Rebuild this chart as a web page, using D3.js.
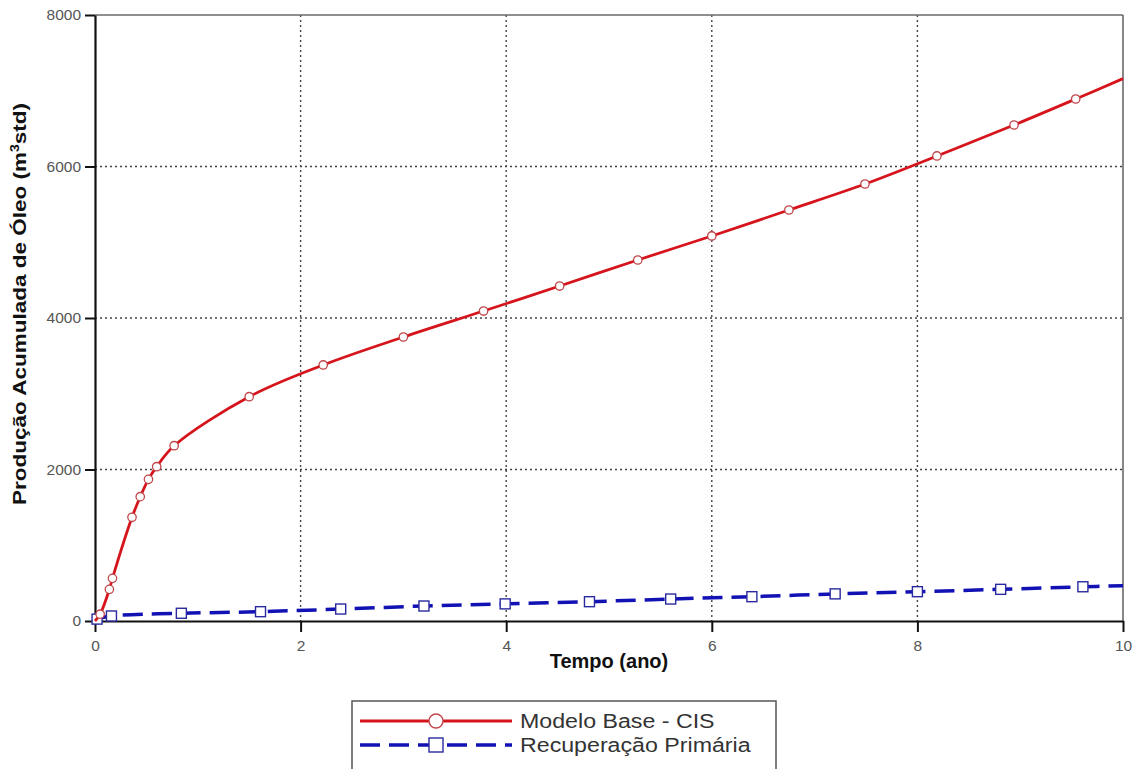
<!DOCTYPE html>
<html>
<head>
<meta charset="utf-8">
<script src="https://cdn.jsdelivr.net/npm/d3@7"></script>
<style>
  html, body { margin: 0; padding: 0; background: #fff; }
  svg { display: block; font-family: "Liberation Sans", Arial, sans-serif; }
</style>
</head>
<body>
<svg id="chart" width="1143" height="769"></svg>
<script>
// Cumulative oil production over time, two scenarios
const cisTime   = [0, 0.05, 0.14, 0.17, 0.36, 0.44, 0.52, 0.60, 0.77, 1.50, 2.22, 3.00, 3.78, 4.52, 5.28, 6.00, 6.75, 7.49, 8.19, 8.94, 9.54, 10];
const cisOil    = [0, 90, 418, 563, 1369, 1641, 1870, 2037, 2314, 2961, 3380, 3749, 4092, 4422, 4766, 5083, 5426, 5769, 6139, 6548, 6891, 7160];
const cisMarker = [0, 1, 1, 1, 1, 1, 1, 1, 1, 1, 1, 1, 1, 1, 1, 1, 1, 1, 1, 1, 1, 0];

const primTime   = [0, 0.02, 0.16, 0.84, 1.61, 2.39, 3.20, 3.99, 4.81, 5.60, 6.39, 7.20, 8.00, 8.81, 9.61, 10];
const primOil    = [0, 25, 66, 102, 123, 158, 198, 226, 255, 290, 321, 358, 387, 418, 452, 465];
const primMarker = [0, 1, 1, 1, 1, 1, 1, 1, 1, 1, 1, 1, 1, 1, 1, 0];

const xTicks = [0, 2, 4, 6, 8, 10];
const yTicks = [0, 2000, 4000, 6000, 8000];

const seriesNames = ["Modelo Base - CIS", "Recuperação Primária"];
const xTitle = "Tempo (ano)";

const svg = d3.select("#chart");
const plot = { left: 95, right: 1123, top: 15, bottom: 621 };

const x = d3.scaleLinear().domain([0, 10]).range([plot.left, plot.right]);
const y = d3.scaleLinear().domain([0, 8000]).range([plot.bottom, plot.top]);

const RED = "#d6141c";
const BLUE = "#1212b4";

// dotted grid
const grid = svg.append("g");
grid.selectAll("line.gx").data(xTicks.filter(d => d > 0 && d < 10)).join("line")
  .attr("x1", d => x(d)).attr("x2", d => x(d))
  .attr("y1", plot.top).attr("y2", plot.bottom)
  .attr("stroke", "#444").attr("stroke-width", 1.4).attr("stroke-dasharray", "2,3");
grid.selectAll("line.gy").data(yTicks.filter(d => d > 0 && d < 8000)).join("line")
  .attr("x1", plot.left).attr("x2", plot.right)
  .attr("y1", d => y(d)).attr("y2", d => y(d))
  .attr("stroke", "#444").attr("stroke-width", 1.4).attr("stroke-dasharray", "2,3");

// top and right frame
svg.append("line").attr("x1", plot.left).attr("x2", plot.right).attr("y1", plot.top).attr("y2", plot.top)
  .attr("stroke", "#6a6a6a").attr("stroke-width", 1.6);
svg.append("line").attr("x1", plot.right).attr("x2", plot.right).attr("y1", plot.top).attr("y2", plot.bottom)
  .attr("stroke", "#6a6a6a").attr("stroke-width", 1.6);

// axes
const xAxis = svg.append("g").attr("transform", `translate(0,${plot.bottom})`)
  .call(d3.axisBottom(x).tickValues(xTicks).tickSize(11).tickSizeOuter(0).tickPadding(8).tickFormat(d3.format("d")));
const yAxis = svg.append("g").attr("transform", `translate(${plot.left},0)`)
  .call(d3.axisLeft(y).tickValues(yTicks).tickSize(10).tickSizeOuter(0).tickPadding(4).tickFormat(d3.format("d")));
[xAxis, yAxis].forEach(a => {
  a.select(".domain").attr("stroke", "#111").attr("stroke-width", 2.2);
  a.selectAll(".tick line").attr("stroke", "#111").attr("stroke-width", 2);
  a.selectAll(".tick text").attr("fill", "#555").attr("font-size", 15.5)
    .attr("font-family", "'Liberation Sans', Arial, sans-serif");
});

// series lines
const line = d3.line().x(d => x(d[0])).y(d => y(d[1])).curve(d3.curveCatmullRom.alpha(0.5));
const primPts = primTime.map((t, i) => [t, primOil[i], primMarker[i]]);
const cisPts = cisTime.map((t, i) => [t, cisOil[i], cisMarker[i]]);

svg.append("path").datum(primPts).attr("d", line)
  .attr("fill", "none").attr("stroke", BLUE).attr("stroke-width", 3.5).attr("stroke-dasharray", "20,9");
svg.append("g").selectAll("rect").data(primPts.filter(d => d[2])).join("rect")
  .attr("x", d => x(d[0]) - 5).attr("y", d => y(d[1]) - 5)
  .attr("width", 10).attr("height", 10)
  .attr("fill", "#fff").attr("stroke", "#2a2aa0").attr("stroke-width", 1.4);

svg.append("path").datum(cisPts).attr("d", line)
  .attr("fill", "none").attr("stroke", RED).attr("stroke-width", 2.8);
svg.append("g").selectAll("circle").data(cisPts.filter(d => d[2])).join("circle")
  .attr("cx", d => x(d[0])).attr("cy", d => y(d[1])).attr("r", 4.2)
  .attr("fill", "#fff").attr("stroke", "#c0454a").attr("stroke-width", 1.3);

// axis titles
svg.append("text").attr("x", (plot.left + plot.right) / 2).attr("y", 668)
  .attr("text-anchor", "middle").attr("font-weight", "bold").attr("font-size", 20).attr("fill", "#111")
  .text(xTitle);
const yt = svg.append("text")
  .attr("transform", `translate(26,${(plot.top + plot.bottom) / 2 - 14}) rotate(-90) scale(1,0.85)`)
  .attr("text-anchor", "middle").attr("font-weight", "bold").attr("font-size", 22.5).attr("fill", "#111");
yt.append("tspan").text("Produção Acumulada de Óleo (m");
yt.append("tspan").attr("font-size", 14).attr("dy", -8).text("3");
yt.append("tspan").attr("dy", 8).text("std)");

// legend
const lg = svg.append("g");
lg.append("rect").attr("x", 352).attr("y", 701).attr("width", 424).attr("height", 80)
  .attr("fill", "#fff").attr("stroke", "#555").attr("stroke-width", 1.5);
const legendRows = [
  { name: seriesNames[0], color: RED, dash: null, y: 721 },
  { name: seriesNames[1], color: BLUE, dash: "20,9", y: 745 }
];
legendRows.forEach((r, i) => {
  lg.append("line").attr("x1", 360).attr("x2", 512).attr("y1", r.y).attr("y2", r.y)
    .attr("stroke", r.color).attr("stroke-width", i === 0 ? 3 : 3.5)
    .attr("stroke-dasharray", r.dash);
  if (i === 0) {
    lg.append("circle").attr("cx", 436).attr("cy", r.y).attr("r", 7)
      .attr("fill", "#fff").attr("stroke", "#c0454a").attr("stroke-width", 1.4);
  } else {
    lg.append("rect").attr("x", 429).attr("y", r.y - 7).attr("width", 14).attr("height", 14)
      .attr("fill", "#fff").attr("stroke", "#2a2aa0").attr("stroke-width", 1.4);
  }
  // legend labels, widened horizontally to fill the box
  lg.append("text").attr("transform", `translate(520,${r.y + 7}) scale(1.16,1)`)
    .attr("font-size", 20).attr("fill", "#333")
    .text(r.name);
});
</script>
</body>
</html>
